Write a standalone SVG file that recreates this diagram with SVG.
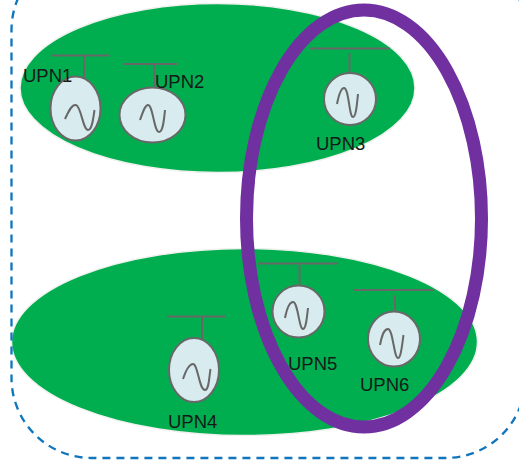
<svg xmlns="http://www.w3.org/2000/svg" width="519" height="462" viewBox="0 0 519 462">
<style>
.region{fill:#00ae4f;stroke:#eef1ee;stroke-width:1.5}
.ln{fill:none;stroke:#686868;stroke-width:2}
.body{fill:#d8ebef;stroke:#686868;stroke-width:2}
text{font-family:"Liberation Sans",Arial,sans-serif;font-size:18.500px;fill:#141a18}
</style>
<g id="region-top"><ellipse class="region" cx="217.500" cy="88" rx="197.500" ry="84.500"/></g>
<g id="region-bottom"><ellipse class="region" cx="244.500" cy="342" rx="233" ry="93.500"/></g>
<g id="connectors">
<rect x="11.500" y="-50" width="514" height="508" rx="80" ry="80" fill="none" stroke="#0f75bd" stroke-width="2.300" stroke-dasharray="8 6"/>
</g>
<g id="UPN1">
<path class="ln" d="M51 55.500H109M84 56V78"/>
<ellipse class="body" cx="75.500" cy="108.500" rx="25" ry="32"/>
<path class="ln" d="M65 119C69 110 72 104 76 105C81 106 83 130 88 130C92 130 93 120 94.500 110"/>
<text x="23" y="82">UPN1</text>
</g>
<g id="UPN2">
<path class="ln" d="M123 64H177M154.500 65V87"/>
<ellipse class="body" cx="152.500" cy="115" rx="33" ry="27.500"/>
<path class="ln" d="M140 120C143 112 145 105 148 105C153 105 154 132 159 132C163 132 164 120 165 110"/>
<text x="155" y="88">UPN2</text>
</g>
<g id="UPN3">
<path class="ln" d="M310 48.500H390M349.500 53V72"/>
<circle class="body" cx="350" cy="99" r="26"/>
<path class="ln" d="M337 104C339 94 341 88 344 88C349 88 349 117 353 117C356 117 357 104 358 94"/>
<text x="316" y="150">UPN3</text>
</g>
<g id="UPN4">
<path class="ln" d="M167 316.500H225M202 317V339"/>
<ellipse class="body" cx="194" cy="370" rx="25" ry="32"/>
<path class="ln" d="M183 379C186 370 189 364 193 364C198 364 199 390 205 390C209 390 209 378 210.500 369"/>
<text x="168" y="428">UPN4</text>
</g>
<g id="UPN5">
<path class="ln" d="M258 263.500H338M299.500 265V285"/>
<circle class="body" cx="298.500" cy="311.500" r="26"/>
<path class="ln" d="M285 318C287 308 290 302 293 302C298 302 299 329 303 329C306 329 307 317 308 308"/>
<text x="288" y="370">UPN5</text>
</g>
<g id="UPN6">
<path class="ln" d="M353 290H434M395 295V312"/>
<ellipse class="body" cx="394" cy="339" rx="26" ry="27.500"/>
<path class="ln" d="M380 345C382 335 384 329 388 329C393 329 394 358 398 358C401 358 402 345 403.500 335"/>
<text x="360" y="391">UPN6</text>
</g>
<g id="ring"><ellipse cx="364" cy="218.500" rx="117.500" ry="208.500" fill="none" stroke="#7030a0" stroke-width="13"/></g>
</svg>
